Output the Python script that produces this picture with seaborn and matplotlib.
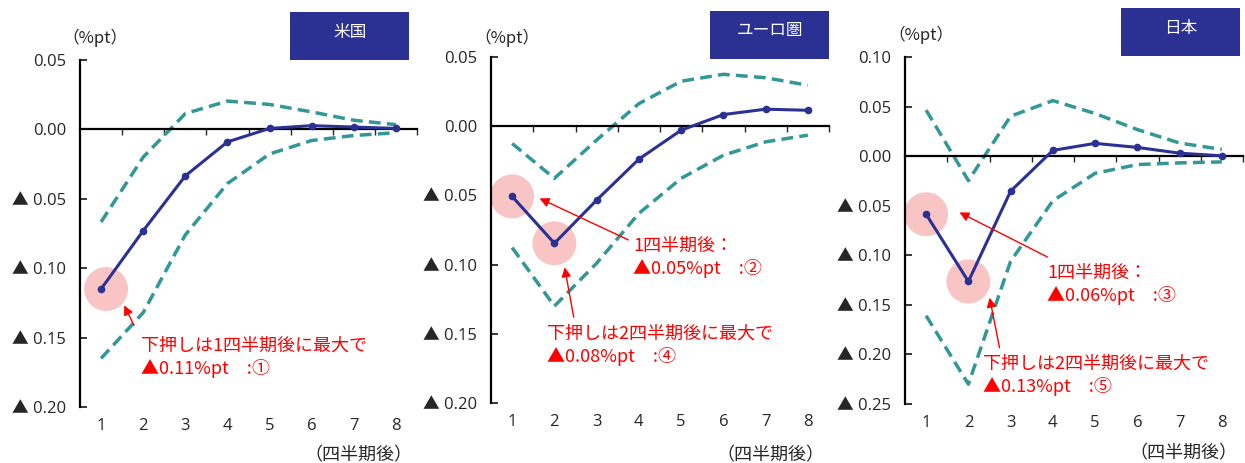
import matplotlib.pyplot as plt
import matplotlib.ticker as mticker
from matplotlib.patches import Rectangle
import seaborn as sns

# --------------------------------------------------------------
# Data
# --------------------------------------------------------------
quarters = [1, 2, 3, 4, 5, 6, 7, 8]

us_center = [-0.115, -0.073, -0.0335, -0.009, 0.0007, 0.0027, 0.0017, 0.0007]
us_upper = [-0.0667, -0.020, 0.0114, 0.0204, 0.018, 0.0126, 0.0066, 0.0034]
us_lower = [-0.165, -0.132, -0.076, -0.039, -0.0177, -0.008, -0.0044, -0.0024]

ea_center = [-0.0507, -0.0846, -0.0534, -0.0238, -0.0029, 0.0084, 0.0123, 0.0115]
ea_upper = [-0.0125, -0.0377, -0.010, 0.0163, 0.0325, 0.0375, 0.035, 0.0296]
ea_lower = [-0.0877, -0.130, -0.099, -0.063, -0.0377, -0.021, -0.0113, -0.0065]

jp_center = [-0.0586, -0.1264, -0.0353, 0.0058, 0.0129, 0.0088, 0.003, 0.0003]
jp_upper = [0.0464, -0.0247, 0.0403, 0.056, 0.043, 0.0268, 0.0132, 0.0068]
jp_lower = [-0.161, -0.230, -0.106, -0.045, -0.0173, -0.0085, -0.0068, -0.0058]

titles = ['米国', 'ユーロ圏', '日本']
unit_label = '（%pt）'
x_label = '（四半期後）'

# highlighted quarters per panel
us_marks = [1]
ea_marks = [1, 2]
jp_marks = [1, 2]

us_notes = ['下押しは1四半期後に最大で\n▲0.11%pt　:①']
ea_notes = ['1四半期後：\n▲0.05%pt　:②', '下押しは2四半期後に最大で\n▲0.08%pt　:④']
jp_notes = ['1四半期後：\n▲0.06%pt　:③', '下押しは2四半期後に最大で\n▲0.13%pt　:⑤']

# --------------------------------------------------------------
# Style
# --------------------------------------------------------------
sns.set_style('white')
# digits from Open Sans, the big ▲ falls back to the CJK font
plt.rcParams['font.family'] = ['Open Sans', 'Noto Sans CJK JP', 'DejaVu Sans']
JP_FONT = ['Noto Sans CJK JP', 'DejaVu Sans']

NAVY = '#2b3192'
TEAL = '#339797'
PINK = '#f9c4c4'
RED = '#ff0000'

W, H = 1245, 463
fig = plt.figure(figsize=(W / 100, H / 100), dpi=100)


def px(x, y):
    # pixel (from top-left) -> figure fraction
    return x / W, 1 - y / H


def tri_fmt(v, pos):
    if v < -1e-9:
        return '▲ %.2f' % abs(v)
    return '%.2f' % abs(v)


panels = [
    dict(box=(80, 60, 417, 407), ylim=(-0.20, 0.05), center=us_center, upper=us_upper,
         lower=us_lower, marks=us_marks, notes=us_notes,
         circle_dx=0.12,
         arrows=[((1.52, -0.125), (1.81, -0.143))],
         texts=[(1.95, -0.164)],
         title_box=(290, 12, 409, 60), unit_xy=(95, 38), xlab_xy=(358, 455)),
    dict(box=(491, 57, 829, 403), ylim=(-0.20, 0.05), center=ea_center, upper=ea_upper,
         lower=ea_lower, marks=ea_marks, notes=ea_notes,
         circle_dx=0.0,
         arrows=[((1.59, -0.0513), (3.81, -0.083)), ((2.23, -0.100), (2.47, -0.140))],
         texts=[(3.86, -0.0947), (1.83, -0.1586)],
         title_box=(710, 11, 829, 59), unit_xy=(507, 38), xlab_xy=(770, 455)),
    dict(box=(905, 57, 1243, 404), ylim=(-0.25, 0.10), center=jp_center, upper=jp_upper,
         lower=jp_lower, marks=jp_marks, notes=jp_notes,
         circle_dx=0.0,
         arrows=[((1.73, -0.0555), (3.93, -0.103)), ((2.49, -0.140), (2.75, -0.196))],
         texts=[(3.86, -0.1297), (2.35, -0.221)],
         title_box=(1121, 8, 1240, 56), unit_xy=(921, 35), xlab_xy=(1183, 453)),
]

for title, p in zip(titles, panels):
    l, t, r, b = p['box']
    x0, y0 = px(l, b)
    ax = fig.add_axes([x0, y0, (r - l) / W, (b - t) / H])

    # highlight circles behind the lines
    hx = [q + p['circle_dx'] for q in p['marks']]
    hy = [p['center'][q - 1] for q in p['marks']]
    ax.scatter(hx, hy, s=1000, color=PINK, edgecolor='none', zorder=1)

    sns.lineplot(x=quarters, y=p['upper'], ax=ax, color=TEAL, lw=2.5,
                 linestyle=(0, (3.4, 1.8)), zorder=2)
    sns.lineplot(x=quarters, y=p['lower'], ax=ax, color=TEAL, lw=2.5,
                 linestyle=(0, (3.4, 1.8)), zorder=2)
    sns.lineplot(x=quarters, y=p['center'], ax=ax, color=NAVY, lw=2.2,
                 marker='o', markersize=5.5, markeredgewidth=0, zorder=3)

    ax.set_xlim(0.5, 8.5)
    ax.set_ylim(*p['ylim'])
    ax.yaxis.set_major_locator(mticker.MultipleLocator(0.05))
    ax.yaxis.set_major_formatter(mticker.FuncFormatter(tri_fmt))
    ax.tick_params(axis='y', direction='in', length=5, width=1.3, pad=10,
                   labelsize=12, left=True)

    for side in ['top', 'right']:
        ax.spines[side].set_visible(False)
    ax.spines['left'].set_color('black')
    ax.spines['left'].set_linewidth(1.6)
    ax.spines['bottom'].set_position(('data', 0))
    ax.spines['bottom'].set_color('black')
    ax.spines['bottom'].set_linewidth(1.6)

    # boundary ticks on the zero line
    ax.set_xticks([q + 0.5 for q in quarters])
    ax.tick_params(axis='x', direction='out', length=4, width=1.0,
                   labelbottom=False, bottom=True)

    # category labels at the bottom of the axes
    sec = ax.secondary_xaxis('bottom')
    sec.set_xticks(quarters)
    sec.tick_params(length=0, pad=8, labelsize=12)
    sec.spines['bottom'].set_visible(False)
    ax.set_xlabel('')
    ax.set_ylabel('')
    ax.grid(False)

    # annotations
    for (head, tail) in p['arrows']:
        ax.annotate('', xy=head, xytext=tail,
                    arrowprops=dict(arrowstyle='-|>', color=RED, lw=1.0,
                                    mutation_scale=14), zorder=4)
    for note, (tx, ty) in zip(p['notes'], p['texts']):
        ax.text(tx, ty, note, color=RED, fontsize=13, ha='left', va='center',
                linespacing=1.3, zorder=5, family=JP_FONT)

    # title box
    bl, bt, br, bb = p['title_box']
    bx, by = px(bl, bb)
    fig.patches.append(Rectangle((bx, by), (br - bl) / W, (bb - bt) / H,
                                 transform=fig.transFigure, facecolor=NAVY,
                                 edgecolor='none'))
    cx, cy = px((bl + br) / 2, (bt + bb) / 2 - 4)
    fig.text(cx, cy, title, color='white', fontsize=12, ha='center', va='center',
             family=JP_FONT)

    ux, uy = px(*p['unit_xy'])
    fig.text(ux, uy, unit_label, fontsize=12, ha='center', va='center', family=JP_FONT)
    lx, ly = px(*p['xlab_xy'])
    fig.text(lx, ly, x_label, fontsize=13, ha='center', va='center', family=JP_FONT)

fig.savefig('out.png', dpi=100)
